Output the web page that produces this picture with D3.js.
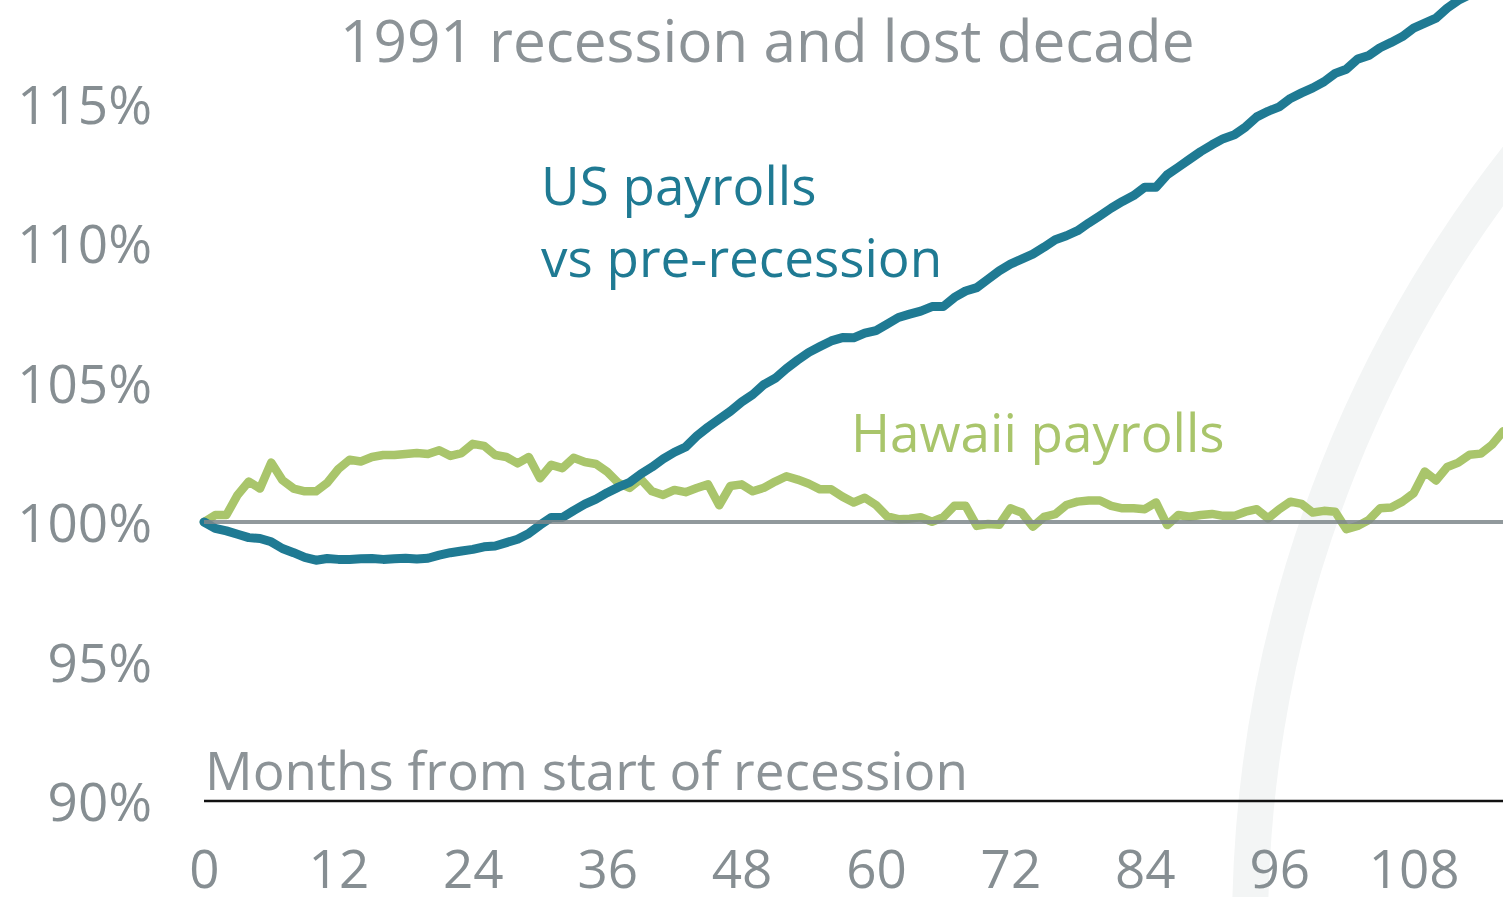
<!DOCTYPE html>
<html>
  <head>
    <meta charset="utf-8">
    <title>1991 recession and lost decade</title>
    <script src="https://d3js.org/d3.v7.min.js"></script>
    <style>
      body { margin: 0; background: #fff; }
      #chart { display: block; font-family: "Open Sans", sans-serif; }
      .axis text { fill: #868e92; font-size: 53px; font-family: "Open Sans", sans-serif; }
      .axis path, .axis line { display: none; }
      .plot { fill: none; stroke-linejoin: round; stroke-linecap: round; }
      #plotUS { stroke: #1f7a93; stroke-width: 9px; }
      #plotHI { stroke: #a9c56b; stroke-width: 8.5px; }
    </style>
  </head>
  <body>
    <svg id="chart" width="1503" height="897">
      <defs>
        <clipPath id="chartClip">
          <rect x="0" y="0" width="1503" height="801"></rect>
        </clipPath>
      </defs>
      <g id="markGroup"></g>
      <g id="xAxisGroup" class="axis"></g>
      <g id="yAxisGroup" class="axis"></g>
      <g id="chartGroup" clip-path="url(#chartClip)"></g>
      <g id="labelGroup"></g>
    </svg>
    <script>
      // data: payrolls as % of pre-recession level, by month from start of recession
      var months = d3.range(0, 117);
      var usPayrolls = [
        100.0, 99.77, 99.68, 99.56, 99.44, 99.41, 99.29, 99.05, 98.9, 98.73,
        98.63, 98.69, 98.66, 98.66, 98.68, 98.69, 98.66, 98.68, 98.7, 98.67,
        98.7, 98.81, 98.9, 98.96, 99.02, 99.11, 99.14, 99.26, 99.38, 99.59,
        99.89, 100.16, 100.16, 100.41, 100.64, 100.82, 101.05, 101.25, 101.42, 101.72,
        101.97, 102.26, 102.5, 102.69, 103.08, 103.4, 103.69, 103.97, 104.3, 104.57,
        104.93, 105.15, 105.5, 105.8, 106.08, 106.29, 106.49, 106.61, 106.6, 106.77,
        106.86, 107.09, 107.33, 107.45, 107.56, 107.72, 107.72, 108.05, 108.28, 108.4,
        108.7, 109.0, 109.24, 109.42, 109.6, 109.85, 110.12, 110.26, 110.44, 110.72,
        110.98, 111.25, 111.49, 111.7, 112.0, 112.0, 112.45, 112.72, 113.0, 113.28,
        113.52, 113.74, 113.88, 114.16, 114.52, 114.72, 114.88, 115.18, 115.38, 115.56,
        115.78, 116.08, 116.23, 116.59, 116.72, 117.0, 117.19, 117.4, 117.7, 117.88,
        118.06, 118.42, 118.7, 118.9, 119.15, 119.35, 119.6
      ];
      var hawaiiPayrolls = [
        100.0, 100.25, 100.25, 100.97, 101.45, 101.2, 102.13, 101.5, 101.2, 101.1,
        101.1, 101.4, 101.9, 102.23, 102.17, 102.33, 102.4, 102.4, 102.44, 102.47,
        102.44, 102.57, 102.37, 102.47, 102.8, 102.73, 102.4, 102.33, 102.1, 102.33,
        101.57, 102.05, 101.93, 102.3, 102.15, 102.08, 101.8, 101.4, 101.22, 101.54,
        101.1, 100.97, 101.15, 101.07, 101.22, 101.35, 100.6, 101.29, 101.35, 101.1,
        101.23, 101.45, 101.64, 101.52, 101.37, 101.17, 101.17, 100.91, 100.7, 100.87,
        100.61, 100.2, 100.1, 100.12, 100.17, 100.01, 100.17, 100.58, 100.58, 99.86,
        99.93, 99.9, 100.49, 100.34, 99.83, 100.18, 100.28, 100.61, 100.73, 100.77,
        100.77, 100.58, 100.49, 100.49, 100.46, 100.7, 99.89, 100.25, 100.19, 100.25,
        100.29, 100.22, 100.22, 100.37, 100.46, 100.13, 100.46, 100.73, 100.65, 100.34,
        100.4, 100.37, 99.74, 99.86, 100.07, 100.49, 100.52, 100.73, 101.03, 101.81,
        101.49, 101.97, 102.13, 102.41, 102.45, 102.77, 103.25
      ];
      var xTicks = [0, 12, 24, 36, 48, 60, 72, 84, 96, 108];
      var yTicks = [90, 95, 100, 105, 110, 115];

      var chart = d3.select("#chart");
      var chartGroup = d3.select("#chartGroup");
      var labelGroup = d3.select("#labelGroup");
      var markGroup = d3.select("#markGroup");
      var width = 1503, height = 897;
      var margin = { top: 0, right: 0, bottom: 96, left: 204 };

      // scales
      var x = d3.scaleLinear()
        .domain([0, 116])
        .range([margin.left, margin.left + 116 * 11.2]);
      var y = d3.scaleLinear()
        .domain([90, 100])
        .range([801, 522]);

      // faint seal watermark in the background
      markGroup.append("circle")
        .attr("cx", 2500)
        .attr("cy", 930)
        .attr("r", 1250)
        .attr("fill", "none")
        .attr("stroke", "#f3f5f5")
        .attr("stroke-width", 36);

      // axes
      var xAxis = d3.axisBottom(x)
        .tickValues(xTicks)
        .tickSize(0)
        .tickPadding(49);
      var yAxis = d3.axisLeft(y)
        .tickValues(yTicks)
        .tickSize(0)
        .tickPadding(0)
        .tickFormat(function(d) { return d + "%"; });
      d3.select("#xAxisGroup")
        .attr("transform", "translate(0, " + y(90) + ")")
        .call(xAxis);
      d3.select("#yAxisGroup")
        .attr("transform", "translate(152, 3)")
        .call(yAxis);

      // series
      var line = d3.line()
        .x(function(d) { return x(d.month); })
        .y(function(d) { return y(d.value); });
      var usData = months.map(function(m, i) { return { month: m, value: usPayrolls[i] }; });
      var hiData = months.map(function(m, i) { return { month: m, value: hawaiiPayrolls[i] }; });
      chartGroup.append("path")
        .attr("id", "plotHI")
        .classed("plot", true)
        .attr("d", line(hiData));
      chartGroup.append("path")
        .attr("id", "plotUS")
        .classed("plot", true)
        .attr("d", line(usData));

      // reference line at 100% and baseline
      chartGroup.append("line")
        .attr("x1", x(0))
        .attr("x2", width)
        .attr("y1", y(100))
        .attr("y2", y(100))
        .attr("stroke", "#7e878b")
        .attr("stroke-opacity", 0.85)
        .attr("stroke-width", 4);
      chart.append("line")
        .attr("x1", x(0))
        .attr("x2", width)
        .attr("y1", y(90))
        .attr("y2", y(90))
        .attr("stroke", "#111")
        .attr("stroke-width", 2.5);

      // labels
      labelGroup.append("text")
        .attr("x", 340)
        .attr("y", 62)
        .attr("fill", "#8c9397")
        .style("font-size", "58.5px")
        .text("1991 recession and lost decade");
      var usLabel = labelGroup.append("text")
        .attr("fill", "#1f7a93")
        .style("font-size", "53px");
      usLabel.append("tspan").attr("x", 541).attr("y", 205).text("US payrolls");
      usLabel.append("tspan").attr("x", 541).attr("y", 277).text("vs pre-recession");
      labelGroup.append("text")
        .attr("x", 851)
        .attr("y", 452)
        .attr("fill", "#a9c56b")
        .style("font-size", "53px")
        .text("Hawaii payrolls");
      labelGroup.append("text")
        .attr("x", 205)
        .attr("y", 790)
        .attr("fill", "#8c9397")
        .style("font-size", "53px")
        .text("Months from start of recession");
    </script>
  </body>
</html>
